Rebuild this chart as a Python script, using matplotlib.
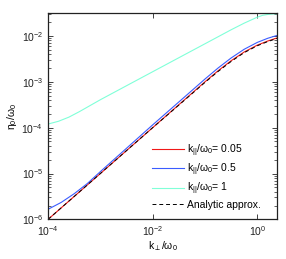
import matplotlib
matplotlib.use("Agg")
import matplotlib.pyplot as plt
from matplotlib.ticker import LogLocator, NullLocator

plt.rcParams['font.family'] = ['Liberation Sans', 'DejaVu Sans']
plt.rcParams['mathtext.fontset'] = 'custom'
plt.rcParams['mathtext.rm'] = 'Liberation Sans'
plt.rcParams['mathtext.it'] = 'Liberation Sans:italic'
plt.rcParams['mathtext.bf'] = 'Liberation Sans:bold'

# ---- data ----
k_red = [1e-4, 1e-3, 1e-2, 3.16e-2, 0.1, 0.178, 0.316, 0.562, 1.0, 1.585, 2.43]
eta_red = [1.0e-6, 1.0e-5, 1.0e-4, 3.16e-4, 1.0e-3, 1.74e-3, 2.88e-3, 4.47e-3, 6.31e-3, 7.76e-3, 9.12e-3]

k_blue = [1e-4, 1.78e-4, 3.16e-4, 5.62e-4, 1e-3, 3.16e-3, 1e-2, 3.16e-2, 0.1, 0.178, 0.316, 0.562, 1.0, 1.585, 2.43]
eta_blue = [1.66e-6, 2.34e-6, 3.63e-6, 6.03e-6, 1.10e-5, 3.55e-5, 1.15e-4, 3.63e-4, 1.15e-3, 2.0e-3, 3.31e-3, 5.13e-3, 7.24e-3, 8.91e-3, 1.035e-2]

k_cyan = [1e-4, 1.585e-4, 2.51e-4, 3.98e-4, 6.31e-4, 1e-3, 3.16e-3, 1e-2, 3.16e-2, 0.1, 0.316, 0.562, 1.0, 1.259, 1.585, 1.995, 2.43]
eta_cyan = [1.20e-4, 1.38e-4, 1.70e-4, 2.24e-4, 3.02e-4, 4.07e-4, 8.22e-4, 1.66e-3, 3.35e-3, 6.76e-3, 1.365e-2, 1.905e-2, 2.57e-2, 2.82e-2, 2.95e-2, 3.03e-2, 3.05e-2]

k_ana = [1e-4, 1e-3, 1e-2, 3.16e-2, 0.1, 0.178, 0.316, 0.562, 1.0, 1.585, 2.43]
eta_ana = [1.0e-6, 1.0e-5, 1.0e-4, 3.1e-4, 0.97e-3, 1.68e-3, 2.78e-3, 4.33e-3, 6.12e-3, 7.55e-3, 8.9e-3]

labels = ["k$_{\\mathrm{||}}$/ω$_{\\mathrm{0}}$= 0.05",
          "k$_{\\mathrm{||}}$/ω$_{\\mathrm{0}}$= 0.5",
          "k$_{\\mathrm{||}}$/ω$_{\\mathrm{0}}$= 1",
          "Analytic approx."]
colors = ['#f01818', '#3a5cff', '#80ffd8', 'black']

fig = plt.figure(figsize=(2.86, 2.59), dpi=100)
ax = fig.add_axes([0.168, 0.153, 0.802, 0.795])

ax.plot(k_red, eta_red, color=colors[0], lw=0.8, label=labels[0])
ax.plot(k_blue, eta_blue, color=colors[1], lw=0.8, label=labels[1])
ax.plot(k_cyan, eta_cyan, color=colors[2], lw=0.8, label=labels[2])
ax.plot(k_ana, eta_ana, color=colors[3], lw=0.7, ls=(0, (4, 3)), label=labels[3])

ax.set_xscale('log')
ax.set_yscale('log')
ax.set_xlim(1e-4, 2.43)
ax.set_ylim(1e-6, 3.1e-2)

ax.xaxis.set_major_locator(LogLocator(base=100.0, numticks=10))
ax.xaxis.set_minor_locator(NullLocator())
ax.yaxis.set_major_locator(LogLocator(base=10.0, numticks=10))
ax.yaxis.set_minor_locator(LogLocator(base=10.0, subs=range(2, 10), numticks=20))

ax.tick_params(which='both', direction='in', top=True, right=True, labelsize=7.5, colors='#222222')
ax.tick_params(which='major', length=3.5, width=0.6)
ax.tick_params(which='minor', length=2, width=0.5)
for s in ax.spines.values():
    s.set_linewidth(0.9)
    s.set_color('#222222')

ax.set_xlabel("k$_{\\perp}$/ω$_{\\mathrm{0}}$", fontsize=7.5, labelpad=1)
ax.set_ylabel("η$_{\\mathrm{0}}$/ω$_{\\mathrm{0}}$", fontsize=7.5, labelpad=2)

leg = ax.legend(loc='upper left', bbox_to_anchor=(0.455, 0.375), frameon=False,
                fontsize=7.5, handlelength=3.0, handletextpad=0.35,
                labelspacing=0.28, borderpad=0, borderaxespad=0)

fig.savefig("out.png", dpi=100)
